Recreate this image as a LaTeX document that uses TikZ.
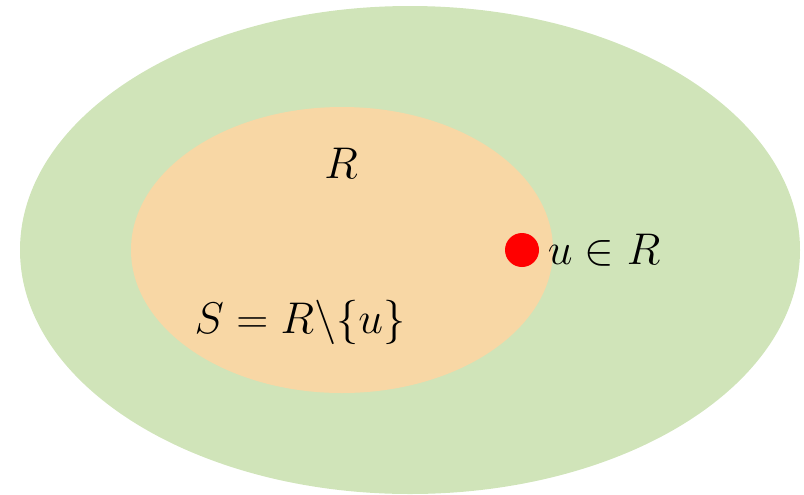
\documentclass[tikz,border=0pt]{standalone}
\usepackage{amsmath}
\usepackage{tikz}
\usetikzlibrary{positioning, shapes.geometric}
\definecolor{setgreen}{RGB}{208,228,185}
\definecolor{setorange}{RGB}{248,215,165}
\tikzset{
  region/.style={ellipse, inner sep=0pt, draw=none},
  setlabel/.style={inner sep=0pt, font=\huge, scale=1.07}
}

\begin{document}
\begin{tikzpicture}[x=0.5pt, y=-0.5pt]
        \useasboundingbox (0,0) rectangle (804,494);
        % Regions
        \node[region, fill=setgreen, minimum width=390pt, minimum height=244pt] (V) at (410, 250) {};
        \node[region, fill=setorange, minimum width=211pt, minimum height=143pt] (R) at (342, 250) {};

        % Element
        \node[circle, fill=red, inner sep=0pt, minimum size=17pt] (u) at (522, 250) {};

        % Labels
        \node[setlabel] (Rlabel) at (341, 163) {$R$};
        \node[setlabel, right=4pt of u] (ulabel) {$u \in R$};
        \node[setlabel] (Slabel) at (300, 322) {$S = R\backslash\{u\}$};
    \end{tikzpicture}
\end{document}
